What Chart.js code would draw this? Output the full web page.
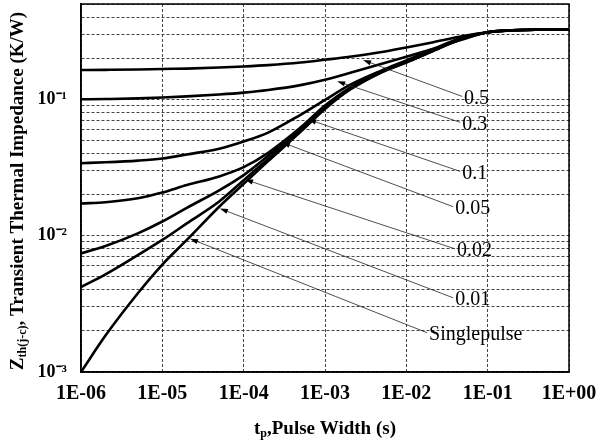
<!DOCTYPE html>
<html>
<head>
<meta charset="utf-8">
<title>Transient Thermal Impedance</title>
<script src="https://cdn.jsdelivr.net/npm/chart.js"></script>
<style>
    body { margin: 0; background: #fff; }
</style>
</head>
<body>
<canvas id="zthChart" width="598" height="446"></canvas>
<script>
    // pulse width samples (s)
    const pulseWidths = [1e-6, 2e-6, 5e-6, 1e-5, 2e-5, 5e-5, 1e-4, 2e-4, 5e-4, 1e-3, 2e-3, 5e-3, 1e-2, 2e-2, 5e-2, 1e-1, 2e-1, 5e-1, 1];

    // Zth(j-c) per duty cycle (K/W)
    const zDuty05 = [0.164, 0.1645, 0.1655, 0.167, 0.168, 0.171, 0.174, 0.178, 0.186, 0.195, 0.205, 0.222, 0.24, 0.26, 0.291, 0.31, 0.321, 0.324, 0.325];
    const zDuty03 = [0.1, 0.1005, 0.1015, 0.103, 0.105, 0.1085, 0.112, 0.117, 0.127, 0.139, 0.156, 0.182, 0.205, 0.232, 0.276, 0.31, 0.321, 0.324, 0.325];
    const zDuty01 = [0.034, 0.0345, 0.0355, 0.0368, 0.0394, 0.0434, 0.049, 0.057, 0.077, 0.099, 0.127, 0.163, 0.193, 0.23, 0.285, 0.31, 0.321, 0.324, 0.325];
    const zDuty005 = [0.0172, 0.0176, 0.0188, 0.0207, 0.0235, 0.0272, 0.0318, 0.0405, 0.062, 0.09, 0.121, 0.16, 0.189, 0.225, 0.282, 0.31, 0.321, 0.324, 0.325];
    const zDuty002 = [0.0074, 0.0084, 0.0104, 0.0127, 0.016, 0.0215, 0.0278, 0.0385, 0.061, 0.088, 0.119, 0.16, 0.188, 0.224, 0.281, 0.31, 0.321, 0.324, 0.325];
    const zDuty001 = [0.0042, 0.0052, 0.0072, 0.0093, 0.0123, 0.0178, 0.0255, 0.0365, 0.0588, 0.086, 0.118, 0.159, 0.187, 0.223, 0.28, 0.31, 0.321, 0.324, 0.325];
    const zSingle = [0.001, 0.00185, 0.00378, 0.00614, 0.0093, 0.0163, 0.024, 0.0352, 0.0577, 0.085, 0.117, 0.158, 0.186, 0.222, 0.279, 0.31, 0.321, 0.324, 0.325];

    // axis ticks
    const xTickValues = [1e-6, 1e-5, 1e-4, 1e-3, 1e-2, 1e-1, 1];
    const yTickValues = [0.001, 0.002, 0.003, 0.004, 0.005, 0.006, 0.007, 0.008, 0.009,
                         0.01, 0.02, 0.03, 0.04, 0.05, 0.06, 0.07, 0.08, 0.09,
                         0.1, 0.2, 0.3, 0.4, 0.5];
    const yDecades = [0.001, 0.01, 0.1];
    const yDecadeLabels = ['10\u207B\u00B3', '10\u207B\u00B2', '10\u207B\u00B9'];

    // curve labels with leader lines (arrow tip on curve -> label anchor)
    const curveLabels = ['0.5', '0.3', '0.1', '0.05', '0.02', '0.01', 'Singlepulse'];
    const arrowX = [2.94e-3, 1.41e-3, 6.2e-4, 2.96e-4, 1.04e-4, 5.1e-5, 2.19e-5];
    const arrowY = [0.194, 0.1355, 0.0713, 0.0483, 0.0258, 0.0158, 0.0095];
    const labelX = [0.0485, 0.0459, 0.0459, 0.0377, 0.0398, 0.0377, 0.018];
    const labelY = [0.105, 0.0678, 0.0296, 0.0163, 0.008, 0.0035, 0.00194];

    const seriesList = [zDuty05, zDuty03, zDuty01, zDuty005, zDuty002, zDuty001, zSingle];

    const datasets = seriesList.map((s, i) => ({
        label: curveLabels[i],
        data: pulseWidths.map((t, k) => ({ x: t, y: s[k] })),
        borderColor: '#000',
        borderWidth: 2.6,
        pointRadius: 0,
        cubicInterpolationMode: 'monotone',
        fill: false
    }));

    const serif = '"Liberation Serif", "Times New Roman", serif';

    // leader lines, arrows, labels, frame and axis titles
    const decorPlugin = {
        id: 'decor',
        afterDatasetsDraw(chart) {
            const ctx = chart.ctx;
            const xs = chart.scales.x, ys = chart.scales.y;
            ctx.save();
            for (let i = 0; i < curveLabels.length; i++) {
                const tx = xs.getPixelForValue(arrowX[i]);
                const ty = ys.getPixelForValue(arrowY[i]);
                const ex = xs.getPixelForValue(labelX[i]);
                const ey = ys.getPixelForValue(labelY[i]);
                const ang = Math.atan2(ty - ey, tx - ex);
                ctx.strokeStyle = '#222';
                ctx.lineWidth = 0.8;
                ctx.beginPath();
                ctx.moveTo(ex, ey);
                ctx.lineTo(tx - 6 * Math.cos(ang), ty - 6 * Math.sin(ang));
                ctx.stroke();
                // arrow head
                ctx.fillStyle = '#000';
                ctx.beginPath();
                ctx.moveTo(tx, ty);
                ctx.lineTo(tx - 8 * Math.cos(ang) + 2.6 * Math.sin(ang), ty - 8 * Math.sin(ang) - 2.6 * Math.cos(ang));
                ctx.lineTo(tx - 8 * Math.cos(ang) - 2.6 * Math.sin(ang), ty - 8 * Math.sin(ang) + 2.6 * Math.cos(ang));
                ctx.closePath();
                ctx.fill();
                // label
                ctx.font = '20px ' + serif;
                ctx.textAlign = 'left';
                ctx.textBaseline = 'middle';
                ctx.fillText(curveLabels[i], ex + 2, ey + 2);
            }
            ctx.restore();
        },
        afterDraw(chart) {
            const ctx = chart.ctx;
            const a = chart.chartArea;
            ctx.save();
            ctx.strokeStyle = '#000';
            ctx.lineWidth = 1.5;
            ctx.strokeRect(a.left, a.top, a.right - a.left, a.bottom - a.top);

            ctx.fillStyle = '#000';
            ctx.textBaseline = 'middle';
            ctx.textAlign = 'left';

            // x title: t_p,Pulse Width (s)
            const big = 'bold 19px ' + serif, small = 'bold 12px ' + serif;
            const xParts = [['t', big, 0], ['p', small, 5], [',Pulse Width (s)', big, 0]];
            drawParts(ctx, xParts, (a.left + a.right) / 2, 429);

            // y title: Z_th(j-c), Transient Thermal Impedance (K/W)
            ctx.translate(18, (a.top + a.bottom) / 2 + 3);
            ctx.rotate(-Math.PI / 2);
            const yParts = [['Z', big, 0], ['th(j-c)', small, 5], [', Transient Thermal Impedance (K/W)', big, 0]];
            drawParts(ctx, yParts, 0, 0);
            ctx.restore();
        }
    };

    function drawParts(ctx, parts, cx, cy) {
        let total = 0;
        parts.forEach(p => { ctx.font = p[1]; total += ctx.measureText(p[0]).width; });
        let x = cx - total / 2;
        parts.forEach(p => {
            ctx.font = p[1];
            ctx.fillText(p[0], x, cy + p[2]);
            x += ctx.measureText(p[0]).width;
        });
    }

    new Chart(document.getElementById('zthChart'), {
        type: 'line',
        data: { datasets: datasets },
        options: {
            responsive: false,
            animation: false,
            devicePixelRatio: 1,
            layout: { padding: { top: 4, right: 29, left: 0, bottom: 0 } },
            plugins: {
                legend: { display: false },
                tooltip: { enabled: false }
            },
            scales: {
                x: {
                    type: 'logarithmic',
                    min: 1e-6,
                    max: 1,
                    afterBuildTicks: s => { s.ticks = xTickValues.map(v => ({ value: v })); },
                    afterFit: s => { s.height = 74; s.paddingLeft = 0; s.paddingRight = 0; },
                    grid: { color: '#444', lineWidth: 1, drawTicks: false },
                    border: { display: true, color: '#000', width: 1.5, dash: [3, 2] },
                    ticks: {
                        autoSkip: false,
                        maxRotation: 0,
                        padding: 10,
                        color: '#000',
                        font: { family: serif, size: 20, weight: 'bold' },
                        callback: v => {
                            const e = Math.round(Math.log10(v));
                            return '1E' + (e < 0 ? '-' : '+') + String(Math.abs(e)).padStart(2, '0');
                        }
                    }
                },
                y: {
                    type: 'logarithmic',
                    min: 0.001,
                    max: 0.5,
                    afterBuildTicks: s => { s.ticks = yTickValues.map(v => ({ value: v })); },
                    afterFit: s => { s.width = 81; s.paddingTop = 0; s.paddingBottom = 0; },
                    grid: { color: '#444', lineWidth: 1, drawTicks: false },
                    border: { display: true, color: '#000', width: 1.5, dash: [3, 2] },
                    ticks: {
                        autoSkip: false,
                        padding: 14,
                        color: '#000',
                        font: { family: serif, size: 18, weight: 'bold' },
                        callback: v => {
                            const idx = yDecades.findIndex(d => Math.abs(d - v) < d * 1e-6);
                            return idx >= 0 ? yDecadeLabels[idx] : '';
                        }
                    }
                }
            }
        },
        plugins: [decorPlugin]
    });
</script>
</body>
</html>
